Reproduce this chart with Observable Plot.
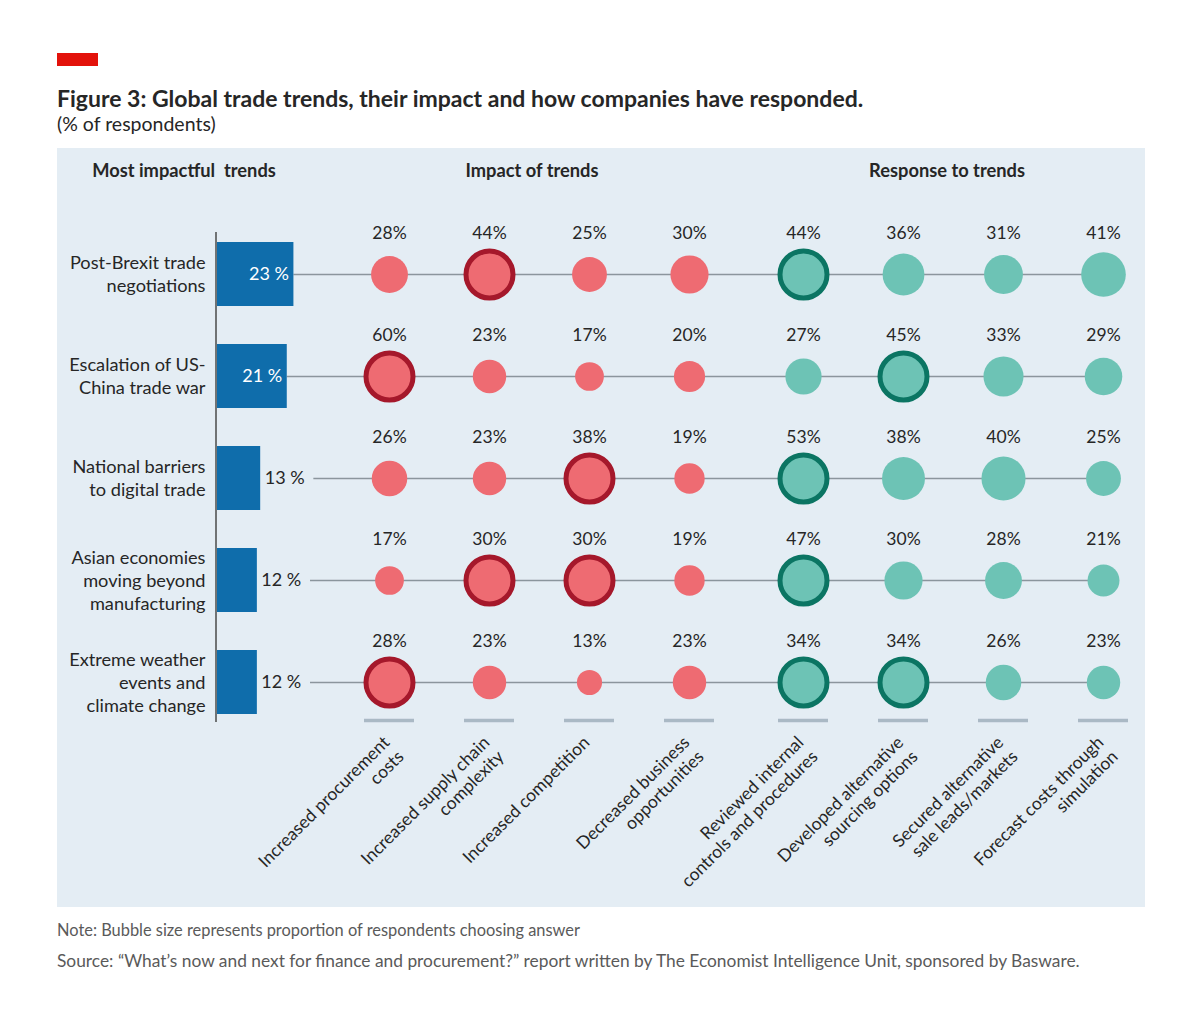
<!DOCTYPE html>
<html>
<head>
<meta charset="utf-8">
<script src="https://cdn.jsdelivr.net/npm/d3@7"></script>
<script src="https://cdn.jsdelivr.net/npm/@observablehq/plot@0.6"></script>
<style>
  html, body { margin: 0; padding: 0; background: #ffffff; }
  body { width: 1200px; height: 1012px; position: relative; font-family: Lato, "Open Sans", sans-serif; color: #262626; }
  .redbar { position: absolute; left: 57px; top: 53px; width: 41px; height: 13px; background: #e3120b; }
  .title { position: absolute; left: 57px; top: 85px; font-size: 23px; line-height: 1.2; font-weight: 700; color: #262626; white-space: nowrap; }
  .subtitle { position: absolute; left: 57px; top: 112px; font-size: 19.5px; line-height: 1.2; color: #262626; white-space: nowrap; }
  .panel { position: absolute; left: 57px; top: 148px; width: 1088px; height: 759px; background: #e4edf4; }
  .panel svg { position: absolute; left: 0; top: 0; }
  .hdr { position: absolute; top: 12px; font-size: 18.3px; line-height: 1.2; font-weight: 700; color: #262626; white-space: pre; transform: translateX(-50%); }
  .note { position: absolute; left: 57px; line-height: 1.2; color: #5a5a5a; white-space: nowrap; }
</style>
</head>
<body>
<div class="redbar"></div>
<div class="title">Figure 3: Global trade trends, their impact and how companies have responded.</div>
<div class="subtitle">(% of respondents)</div>
<div class="panel" id="panel">
  <div class="hdr" style="left:127px">Most impactful  trends</div>
  <div class="hdr" style="left:475px">Impact of trends</div>
  <div class="hdr" style="left:890px">Response to trends</div>
</div>
<div class="note" style="top:920px; font-size:16.4px">Note: Bubble size represents proportion of respondents choosing answer</div>
<div class="note" style="top:951px; font-size:17.35px">Source: “What’s now and next for finance and procurement?” report written by The Economist Intelligence Unit, sponsored by Basware.</div>

<script>
// ---- Data ----
const trends = [
  "Post-Brexit trade negotiations",
  "Escalation of US-China trade war",
  "National barriers to digital trade",
  "Asian economies moving beyond manufacturing",
  "Extreme weather events and climate change"
];
const trendLabels = [
  "Post-Brexit trade\nnegotiations",
  "Escalation of US-\nChina trade war",
  "National barriers\nto digital trade",
  "Asian economies\nmoving beyond\nmanufacturing",
  "Extreme weather\nevents and\nclimate change"
];
const trendShare = [23, 21, 13, 12, 12];

const impactCols = [
  "Increased procurement\ncosts",
  "Increased supply chain\ncomplexity",
  "Increased competition",
  "Decreased business\nopportunities"
];
const responseCols = [
  "Reviewed internal\ncontrols and procedures",
  "Developed alternative\nsourcing options",
  "Secured alternative\nsale leads/markets",
  "Forecast costs through\nsimulation"
];
const impactValues = [
  [28, 44, 25, 30],
  [60, 23, 17, 20],
  [26, 23, 38, 19],
  [17, 30, 30, 19],
  [28, 23, 13, 23]
];
const responseValues = [
  [44, 36, 31, 41],
  [27, 45, 33, 29],
  [53, 38, 40, 25],
  [47, 30, 28, 21],
  [34, 34, 26, 23]
];

// ---- Styling ----
const W = 1088, H = 759;
const ink = "#262626";
const barBlue = "#0f6dab";
const lineGray = "#8b959d";
const underGray = "#aab9c5";
const rScale = {type: "sqrt", domain: [0, 60], range: [0, 27]};
const baseStyle = {background: "transparent", overflow: "visible", fontFamily: "Lato, 'Open Sans', sans-serif", color: ink, position: "absolute", left: "0px", top: "0px"};

const rows = trends.map((t, i) => ({trend: t, label: trendLabels[i], share: trendShare[i]}));

function makeCells(cols, values) {
  const out = [];
  values.forEach((row, i) => {
    const mx = d3.max(row);
    row.forEach((v, j) => out.push({trend: trends[i], col: cols[j], value: v, hl: v === mx}));
  });
  return out;
}

const panel = document.getElementById("panel");

// ---- Plot A: trend bars, axis, connecting lines ----
const xEnd = 267; // right end of the share scale (last bubble column)
const plotA = Plot.plot({
  width: W, height: H,
  marginTop: 84, marginBottom: 185, marginLeft: 0, marginRight: 41,
  style: baseStyle,
  x: {type: "linear", domain: [0, xEnd], range: [160, 1047], axis: null},
  y: {type: "band", domain: trends, range: [92, 567], paddingInner: 0.377, paddingOuter: 0, align: 0.5, axis: null},
  marks: [
    Plot.ruleY(rows, {y: "trend", x1: d => d.share + (d.share < 15 ? 16 : 0), x2: () => xEnd, stroke: lineGray, strokeWidth: 1.3}),
    Plot.barX(rows, {y: "trend", x: "share", fill: barBlue}),
    Plot.ruleX([0], {stroke: "#4a4a4a", strokeWidth: 1.5, dx: -1.5}),
    Plot.text(rows.filter(d => d.share >= 15), {y: "trend", x: "share", text: d => d.share + " %", textAnchor: "end", dx: -5, fill: "white", fontSize: 18}),
    Plot.text(rows.filter(d => d.share < 15), {y: "trend", x: "share", text: d => d.share + " %", textAnchor: "start", dx: 4, fill: ink, fontSize: 18}),
    Plot.text(rows, {y: "trend", x: () => 0, text: "label", textAnchor: "end", dx: -12, dy: -1, fill: ink, fontSize: 18.2, lineHeight: 1.27})
  ]
});
panel.appendChild(plotA);

// ---- Plot B: bubbles ----
function bubblePlot(cols, values, xRange, fill, strokeCol) {
  const cells = makeCells(cols, values);
  return Plot.plot({
    width: W, height: H,
    marginTop: 0, marginBottom: 170, marginLeft: 0, marginRight: 0,
    style: baseStyle,
    x: {type: "band", domain: cols, range: xRange, padding: 0.5, align: 0.5, axis: null},
    y: {type: "point", domain: trends, range: [124, 535], padding: 0, axis: null},
    r: rScale,
    marks: [
      Plot.dot(cells.filter(d => !d.hl), {x: "col", y: "trend", r: "value", fill: fill}),
      Plot.dot(cells.filter(d => d.hl), {x: "col", y: "trend", r: 23.5, fill: fill, stroke: strokeCol, strokeWidth: 5}),
      Plot.text(cells, {x: "col", y: "trend", text: d => d.value + "%", dy: -41, fill: ink, fontSize: 17.5}),
      Plot.tickY(cols, {x: d => d, y: () => trends[trends.length - 1], dy: 38, stroke: underGray, strokeWidth: 3.5}),
      Plot.text(cols, {x: d => d, frameAnchor: "bottom", text: d => d, rotate: -45, textAnchor: "end", lineAnchor: "top", dx: -9, dy: -4, fill: ink, fontSize: 17.5, lineHeight: 1.15})
    ]
  });
}

panel.appendChild(bubblePlot(impactCols, impactValues, [257, 707], "#ee6b72", "#a5182b"));
panel.appendChild(bubblePlot(responseCols, responseValues, [669.5, 1122.5], "#6dc3b5", "#0b7563"));
</script>
</body>
</html>
